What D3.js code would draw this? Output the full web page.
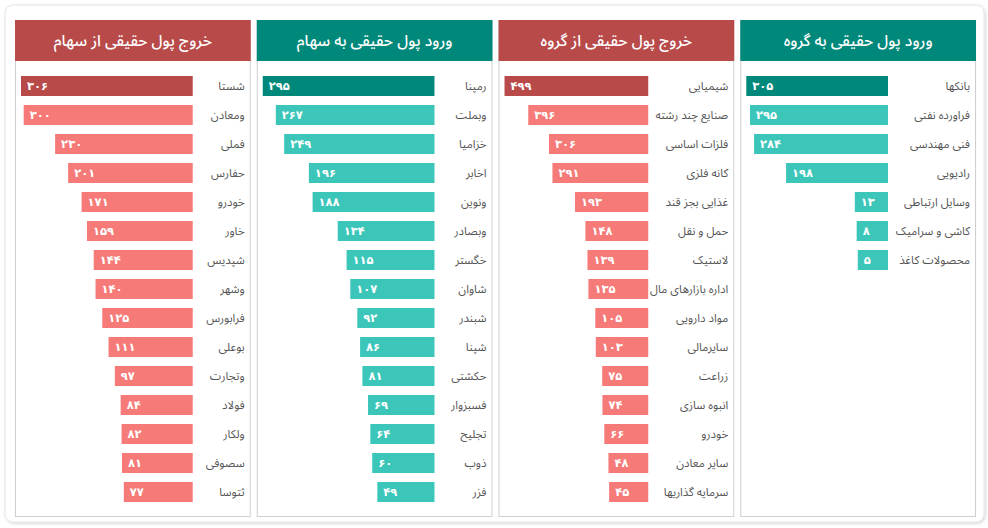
<!DOCTYPE html>
<html><head><meta charset="utf-8">
<script src="https://cdn.jsdelivr.net/npm/d3@7/dist/d3.min.js"></script>
<style>
html,body{margin:0;padding:0;background:#fff;}
svg{display:block;font-family:'Noto Sans Arabic','Vazirmatn','DejaVu Sans',sans-serif;}
</style></head><body>
<svg id="c" width="988" height="528"></svg>
<script>
// ---- data ----
const titles = ["خروج پول حقیقی از سهام","ورود پول حقیقی به سهام","خروج پول حقیقی از گروه","ورود پول حقیقی به گروه"];
const kinds = ["out","in","out","in"];

const outStockCats = ["شستا","ومعادن","فملی","حفارس","خودرو","خاور","شپدیس","وشهر","فرابورس","بوعلی","وتجارت","فولاد","ولکار","سصوفی","ثتوسا"];
const outStockVals = [306,300,230,201,171,159,144,140,125,111,97,84,82,81,77];

const inStockCats = ["رمپنا","وبملت","خزامیا","اخابر","ونوین","وبصادر","خگستر","شاوان","شبندر","شپنا","حکشتی","فسبزوار","تجلیح","ذوب","فزر"];
const inStockVals = [295,267,249,196,188,134,115,107,92,86,81,69,64,60,49];

const outGroupCats = ["شیمیایی","صنایع چند رشته","فلزات اساسی","کانه فلزی","غذایی بجز قند","حمل و نقل","لاستیک","اداره بازارهای مال","مواد دارویی","سایرمالی","زراعت","انبوه سازی","خودرو","سایر معادن","سرمایه گذاریها"];
const outGroupVals = [499,396,306,291,193,148,139,135,105,103,75,74,66,48,45];

const inGroupCats = ["بانکها","فراورده نفتی","فنی مهندسی","رادیویی","وسایل ارتباطی","کاشی و سرامیک","محصولات کاغذ"];
const inGroupVals = [305,295,284,198,13,8,5];

const panelCats = [outStockCats, inStockCats, outGroupCats, inGroupCats];
const panelVals = [outStockVals, inStockVals, outGroupVals, inGroupVals];

// ---- styles ----
const colors = {
  out: {header:"#b94a4a", top:"#b94a4a", bar:"#f57a78"},
  in:  {header:"#00897b", top:"#00897b", bar:"#3cc6b9"}
};
const labelCol = [58, 58, 86, 88];
const toFa = s => String(s).replace(/\d/g, d => "۰۱۲۳۴۵۶۷۸۹"[d]);

const svg = d3.select("#c");
const defs = svg.append("defs");
const f = defs.append("filter").attr("id","sh").attr("x","-5%").attr("y","-5%").attr("width","110%").attr("height","110%");
f.append("feDropShadow").attr("dx",1).attr("dy",1).attr("stdDeviation",1.5).attr("flood-color","#000").attr("flood-opacity",0.18);

svg.append("rect").attr("x",5).attr("y",5).attr("width",979).attr("height",517).attr("rx",8)
  .attr("fill","#fff").attr("stroke","#e6e6e6").attr("filter","url(#sh)");

const panelX = d3.scaleBand().domain(d3.range(4)).range([15, 976]).paddingInner(0.025);
const panelTop = 20, panelBottom = 517, headerH = 41;
const rowStep = 29, barH = 20, firstBar = 76;

for (let p = 0; p < 4; p++) {
  const x0 = panelX(p), w = panelX.bandwidth();
  const cats = panelCats[p], vals = panelVals[p];
  const c = colors[kinds[p]];
  const g = svg.append("g");
  g.append("rect").attr("x",x0+0.5).attr("y",panelTop+0.5).attr("width",w-1).attr("height",panelBottom-panelTop-1)
    .attr("fill","#fff").attr("stroke","#cfcfcf");
  g.append("rect").attr("x",x0).attr("y",panelTop).attr("width",w).attr("height",headerH).attr("fill",c.header);
  g.append("text").attr("x",x0+w/2).attr("y",panelTop+headerH/2).attr("text-anchor","middle")
    .attr("dominant-baseline","central").attr("fill","#fff").attr("font-size",15.5).attr("font-weight",500)
    .text(titles[p]);

  const barRight = x0 + w - labelCol[p];
  const barLeftMax = x0 + 6;
  const maxW = barRight - barLeftMax;
  const xs = d3.scaleLinear().domain([0, d3.max(vals)]).range([0.2*maxW, maxW]);
  const ys = d3.scaleBand().domain(cats).range([firstBar, firstBar + rowStep*cats.length - (rowStep-barH)])
    .paddingInner((rowStep-barH)/rowStep).paddingOuter(0);

  const rows = g.selectAll("g.row").data(cats.map((k,i)=>({k, v:vals[i], i}))).join("g").attr("class","row");
  rows.append("rect").attr("x",d=>barRight - xs(d.v)).attr("y",d=>ys(d.k)).attr("width",d=>xs(d.v)).attr("height",ys.bandwidth())
    .attr("fill",d=>d.i===0?c.top:c.bar);
  rows.append("text").attr("x",d=>barRight - xs(d.v) + 6).attr("y",d=>ys(d.k)+ys.bandwidth()/2)
    .attr("dominant-baseline","central").attr("fill","#fff").attr("font-size",11.5).attr("font-weight","bold")
    .attr("font-family","'DejaVu Sans',sans-serif")
    .text(d=>toFa(d.v));
  rows.append("text").attr("x",x0 + w - 6).attr("y",d=>ys(d.k)+ys.bandwidth()/2)
    .attr("text-anchor","end").attr("dominant-baseline","central").attr("fill","#555").attr("font-size",11.5)
    .text(d=>d.k);
}
</script>
</body></html>
